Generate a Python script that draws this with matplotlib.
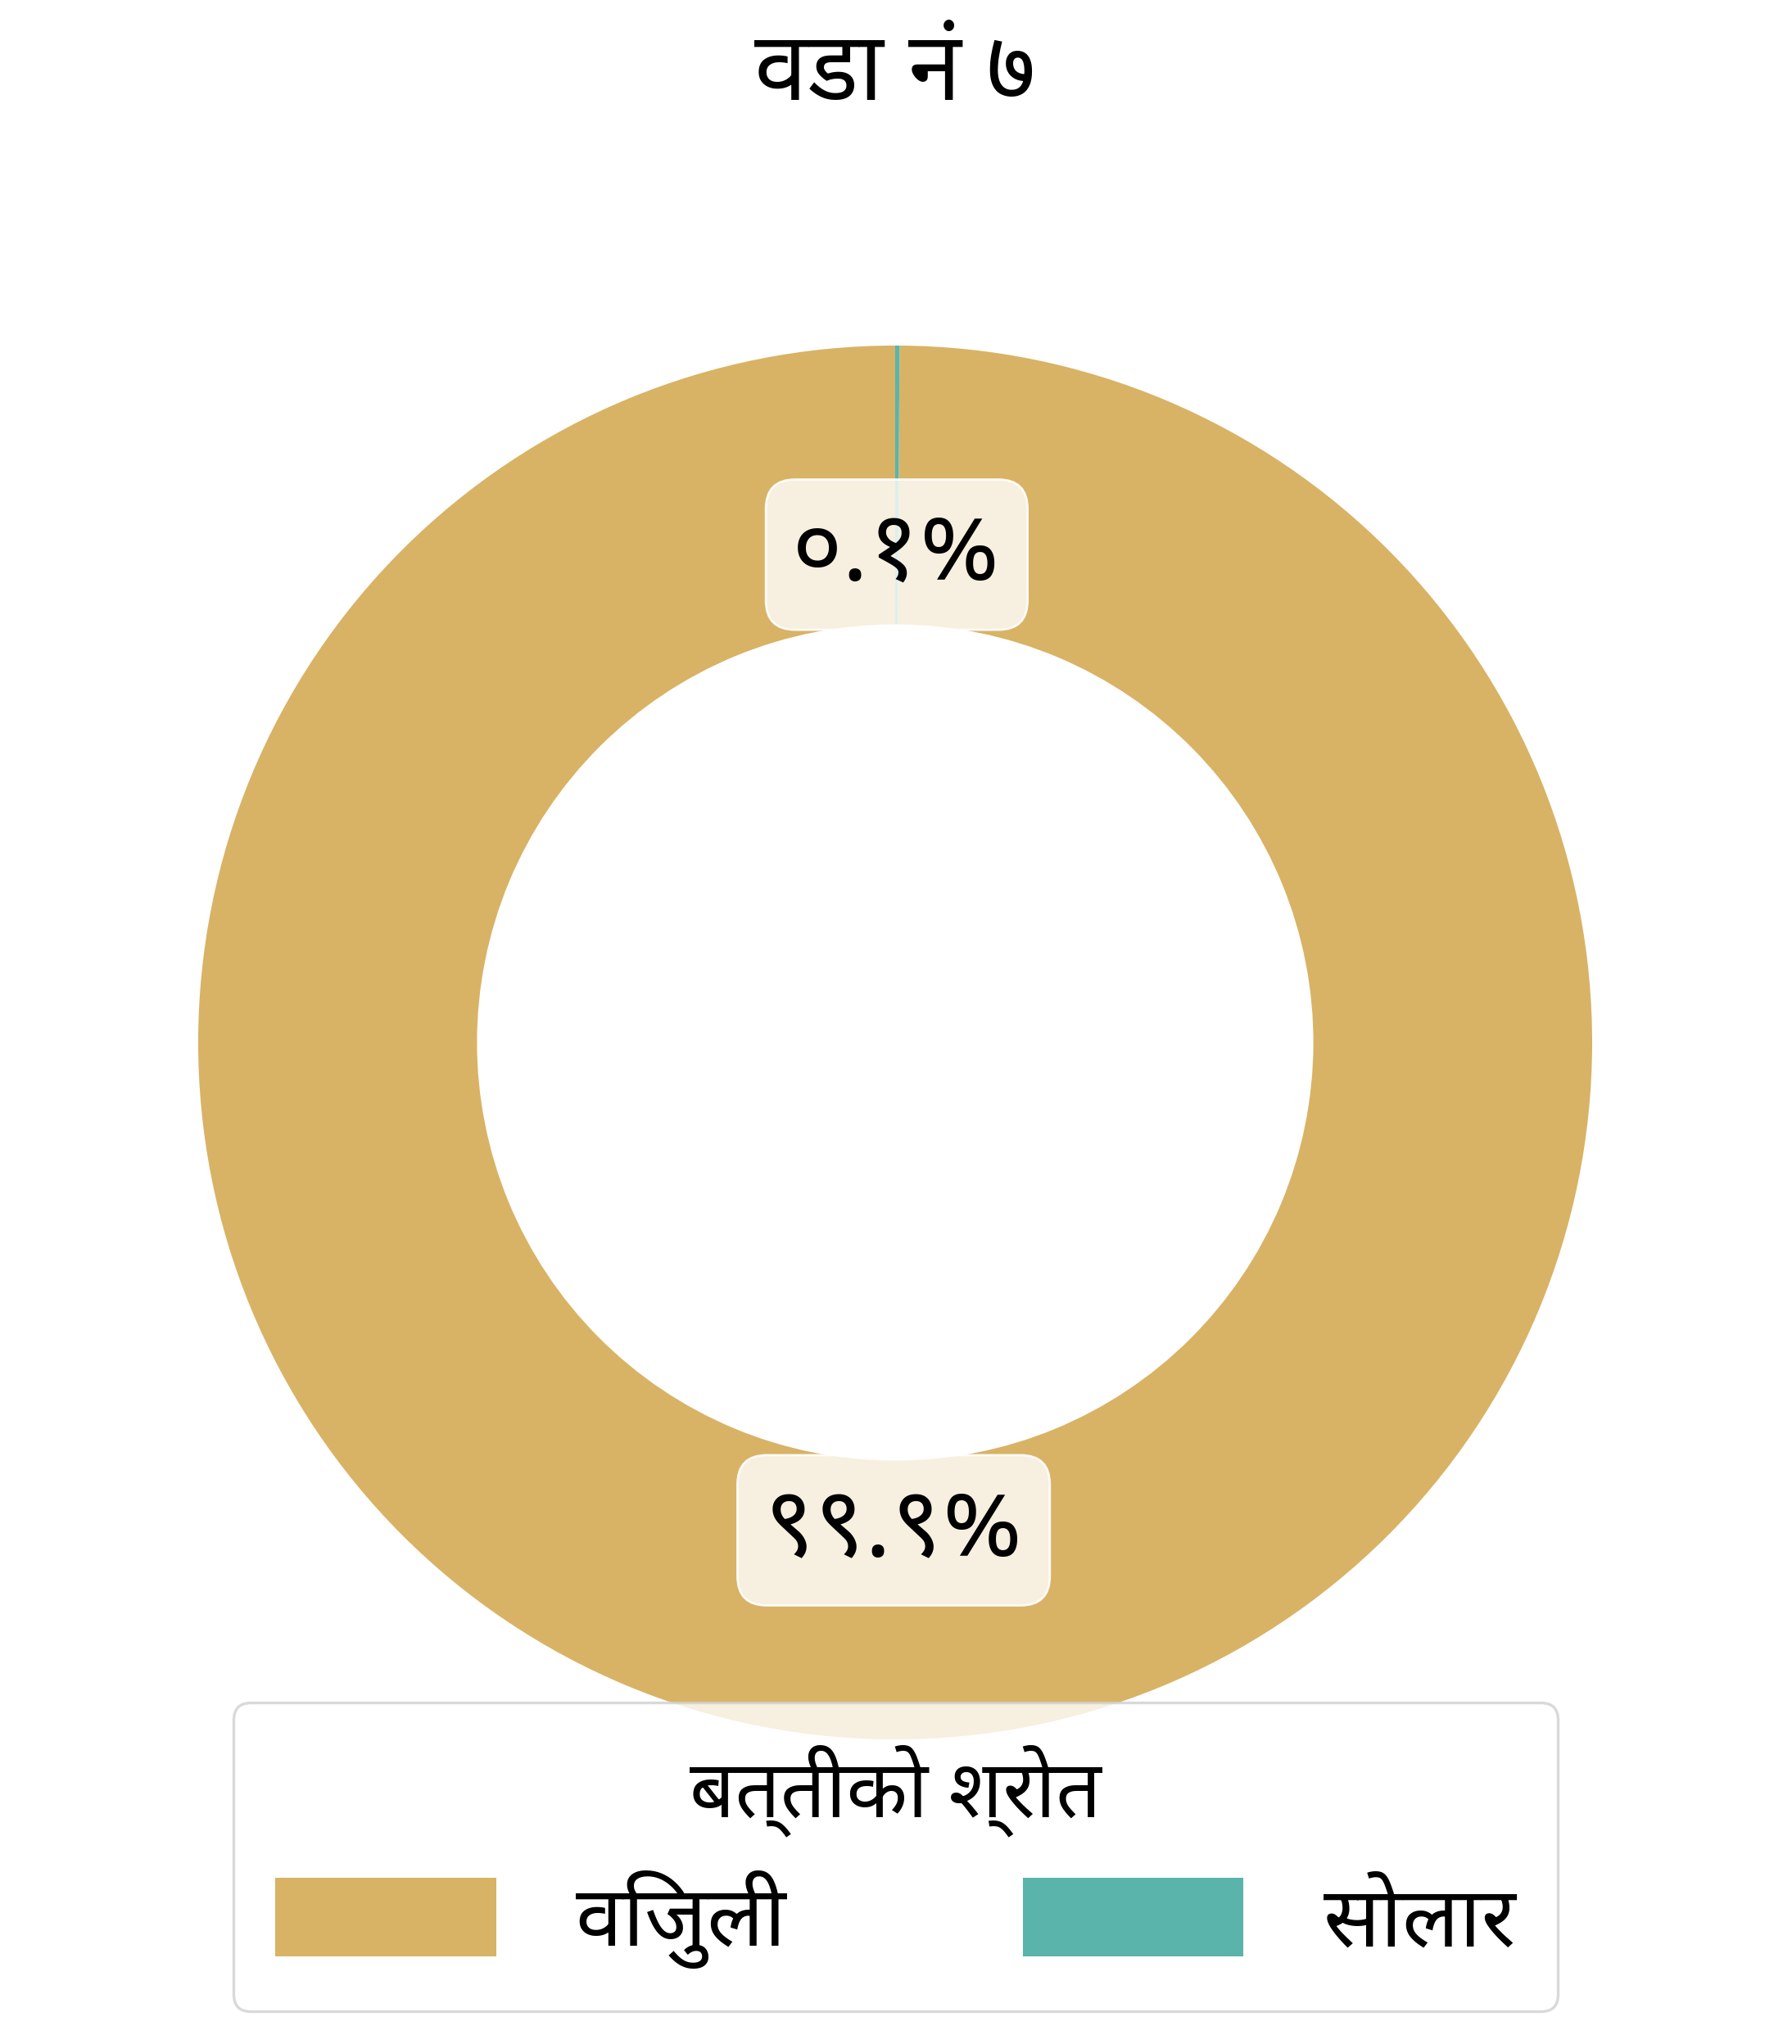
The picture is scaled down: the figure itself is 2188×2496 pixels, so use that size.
import matplotlib
matplotlib.use("Agg")
import matplotlib.pyplot as plt

plt.rcParams['font.family'] = ['Noto Sans Devanagari', 'DejaVu Sans']

# Data
title = "वडा नं ७"
legend_title = "बत्तीको श्रोत"
categories = ["विजुली", "सोलार"]
values = [99.9, 0.1]
colors = ["#d8b365", "#5ab4ac"]

DEV_DIGITS = str.maketrans("0123456789", "०१२३४५६७८९")


def fmt_pct(p):
    return f"{p:.1f}%".translate(DEV_DIGITS)


W, H = 2188, 2496
fig = plt.figure(figsize=(W / 200, H / 200), dpi=200)

# donut axes: centre (1093, 1273) px, outer radius 851 px
R = 851
cx, cy = 1093, 1273
ax = fig.add_axes([(cx - R) / W, (H - cy - R) / H, 2 * R / W, 2 * R / H])

wedges, texts, autotexts = ax.pie(
    values,
    colors=colors,
    startangle=90,
    radius=1.0,
    autopct=fmt_pct,
    pctdistance=0.7,
    wedgeprops=dict(width=0.4, edgecolor="none", linewidth=0),
    textprops=dict(fontsize=43, color="black"),
)
for t in autotexts:
    t.set_bbox(dict(boxstyle="round,pad=0.27,rounding_size=0.3",
                    facecolor=(1, 1, 1, 0.8), edgecolor=(1, 1, 1, 0.9), linewidth=1.0))
ax.set_xlim(-1, 1)
ax.set_ylim(-1, 1)
ax.set_aspect("equal")
ax.axis("off")

fig.text(cx / W, 1 - 122 / H, title, ha="center", va="baseline", fontsize=42)

leg = fig.legend(
    wedges, categories,
    title=legend_title,
    ncol=2,
    loc="upper left",
    bbox_to_anchor=(285 / W, 0.0, (1902 - 285) / W, 1 - 2079 / H),
    mode="expand",
    fontsize=37,
    title_fontsize=35,
    handlelength=2.62,
    handleheight=1.05,
    handletextpad=0.95,
    borderpad=0.5,
    labelspacing=0.4,
    frameon=True,
    fancybox=True,
    framealpha=0.8,
    edgecolor="#d0d0d0",
    borderaxespad=0.0,
)
leg.get_frame().set_linewidth(1.2)

fig.savefig("out.png", dpi=200)
